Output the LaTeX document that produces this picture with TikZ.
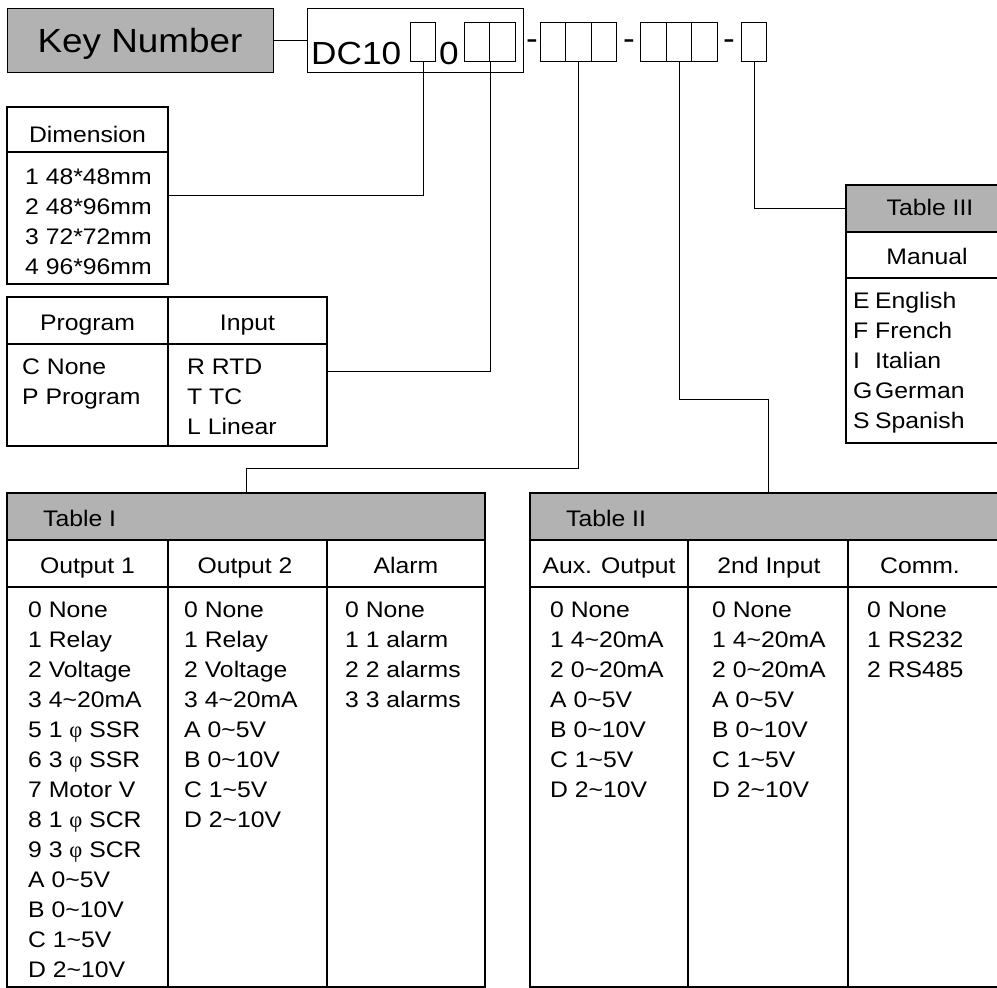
\documentclass[tikz,border=0pt]{standalone}
\usepackage{fontspec}
\setmainfont{Liberation Sans}[FakeStretch=1.1]
\newfontfamily\phifont{Liberation Serif}
\newcommand\phisym{{\phifont φ}}
\newcommand\wave{\textasciitilde}
\definecolor{hdrgray}{RGB}{178,178,178}
\tikzset{
	thinbox/.style={draw, line width=1pt, inner sep=0pt},
	slot/.style={draw, line width=1pt, inner sep=0pt, minimum width=25.5pt, minimum height=39pt},
	panel/.style={draw, line width=2.2pt, inner sep=0pt},
	rule/.style={line width=1.2pt},
	link/.style={line width=1pt},
	bigtext/.style={inner sep=0pt, font=\fontsize{32}{36}\selectfont},
	cell/.style={anchor=base, inner sep=0pt, font=\fontsize{22.5}{30}\selectfont},
	item/.style={anchor=base west, inner sep=0pt, font=\fontsize{22.5}{30}\selectfont}
}
\begin{document}
\begin{tikzpicture}[x=1pt, y=-1pt]
	\useasboundingbox (0,0) rectangle (997,988);
	\node[thinbox, fill=hdrgray, minimum width=266pt, minimum height=64pt, text height=24pt, text depth=0pt, font=\fontsize{33.5}{36}\selectfont](keynum) at (140,40){Key Number};
	\node[thinbox, minimum width=216pt, minimum height=64pt](dcbox) at (415,40){};
	\node[bigtext, anchor=base west](dctext) at (311,64){DC10};
	\node[bigtext, anchor=base west](dczero) at (439,64){0};
	\node[slot](dimslot) at (423,41.5){};
	\node[slot](progslot) at (477,41.5){};
	\node[slot](inslot) at (502.5,41.5){};
	\node[bigtext, anchor=base](dashone) at (532,49.5){-};
	\node[slot](outa) at (553,41.5){};
	\node[slot](outb) at (578.5,41.5){};
	\node[slot](outc) at (604,41.5){};
	\node[bigtext, anchor=base](dashtwo) at (629,49.5){-};
	\node[slot](auxa) at (653.5,41.5){};
	\node[slot](auxb) at (679,41.5){};
	\node[slot](auxc) at (704.5,41.5){};
	\node[bigtext, anchor=base](dashthree) at (729,49.5){-};
	\node[slot](manslot) at (754,41.5){};
	\draw [link] (keynum) -- (dcbox);

	\node[panel, minimum width=161pt, minimum height=177pt](dim) at (87.5,195.5){};
	\draw [rule] (7,152) -- (168,152);
	\node[cell](dimhead) at (87.5,142){Dimension};
	\foreach \txt [count=\i from 0] in {1 48*48mm, 2 48*96mm, 3 72*72mm, 4 96*96mm}
		\node[item] at (25,184+30*\i){\txt};

	\node[panel, minimum width=320pt, minimum height=149pt](proginput) at (167,371.5){};
	\draw [panel] (168,297) -- (168,446);
	\draw [rule] (7,344) -- (327,344);
	\node[cell](proghead) at (87.5,330){Program};
	\node[cell](inhead) at (247.5,330){Input};
	\foreach \txt [count=\i from 0] in {C None, P Program}
		\node[item] at (22,374+30*\i){\txt};
	\foreach \txt [count=\i from 0] in {R RTD, T TC, L Linear}
		\node[item] at (187,374+30*\i){\txt};

	\node[panel, minimum width=168pt, minimum height=258pt](tabthreebox) at (930,314){};
	\node[panel, fill=hdrgray, minimum width=168pt, minimum height=47pt](tabthree) at (930,208.5){};
	\draw [rule] (846,278) -- (1014,278);
	\node[cell] at (930,215){Table III};
	\node[cell] at (927,264){Manual};
	\foreach \c/\w [count=\i from 0] in {E/English, F/French, I/Italian, G/German, S/Spanish}{
		\node[item] at (853,308+30*\i){\c};
		\node[item] at (875,308+30*\i){\w};
	}

	\node[panel, minimum width=478pt, minimum height=494pt](tabonebox) at (246,740){};
	\node[panel, fill=hdrgray, minimum width=478pt, minimum height=47pt](tabone) at (246,516.5){};
	\node[item] at (43,526){Table I};
	\draw [panel] (168,540) -- (168,987);
	\draw [panel] (327,540) -- (327,987);
	\draw [rule] (7,587) -- (485,587);
	\node[cell] at (87.5,573){Output 1};
	\node[cell] at (245,573){Output 2};
	\node[cell] at (406,573){Alarm};
	\foreach \txt [count=\i from 0] in {0 None, 1 Relay, 2 Voltage, 3 4\wave20mA, 5 1 \phisym{} SSR, 6 3 \phisym{} SSR, 7 Motor V, 8 1 \phisym{} SCR, 9 3 \phisym{} SCR, A 0\wave5V, B 0\wave10V, C 1\wave5V, D 2\wave10V}
		\node[item] at (28,617+30*\i){\txt};
	\foreach \txt [count=\i from 0] in {0 None, 1 Relay, 2 Voltage, 3 4\wave20mA, A 0\wave5V, B 0\wave10V, C 1\wave5V, D 2\wave10V}
		\node[item] at (184,617+30*\i){\txt};
	\foreach \txt [count=\i from 0] in {0 None, 1 1 alarm, 2 2 alarms, 3 3 alarms}
		\node[item] at (345,617+30*\i){\txt};

	\node[panel, minimum width=476pt, minimum height=494pt](tabtwobox) at (768,740){};
	\node[panel, fill=hdrgray, minimum width=476pt, minimum height=47pt](tabtwo) at (768,516.5){};
	\node[item] at (566,526){Table II};
	\draw [panel] (688,540) -- (688,987);
	\draw [panel] (848,540) -- (848,987);
	\draw [rule] (530,587) -- (1006,587);
	\node[cell] at (609,573){Aux. Output};
	\node[cell] at (769,573){2nd Input};
	\node[cell] at (920,573){Comm.};
	\foreach \txt [count=\i from 0] in {0 None, 1 4\wave20mA, 2 0\wave20mA, A 0\wave5V, B 0\wave10V, C 1\wave5V, D 2\wave10V}{
		\node[item] at (550,617+30*\i){\txt};
		\node[item] at (712,617+30*\i){\txt};
	}
	\foreach \txt [count=\i from 0] in {0 None, 1 RS232, 2 RS485}
		\node[item] at (867,617+30*\i){\txt};

	\draw [link] (dimslot.south) |- (dim.east);
	\draw [link] (progslot.south east) |- (proginput.east);
	\draw [link] (outb.south) -- ++(0,407) -| (tabone.north);
	\draw [link] (auxb.south) -- ++(0,338) -| (tabtwo.north);
	\draw [link] (manslot.south) |- (tabthree.west);
\end{tikzpicture}
\end{document}
